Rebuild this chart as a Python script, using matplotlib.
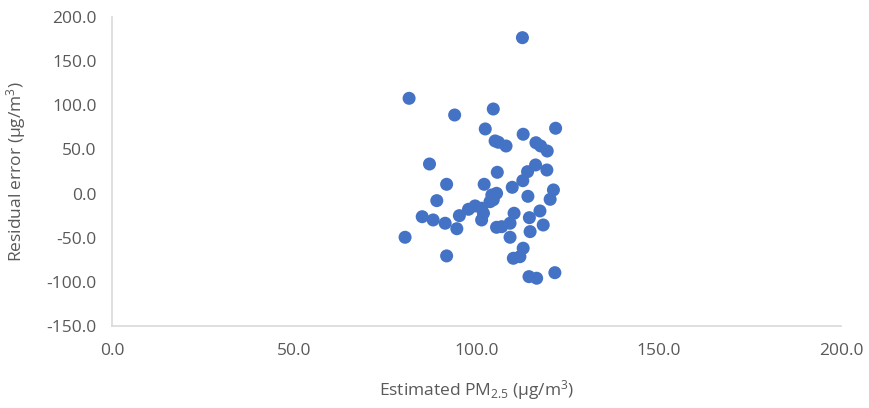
import matplotlib
matplotlib.use("Agg")
import matplotlib.pyplot as plt

# estimated PM2.5 vs residual error of the model
est_pm25 = [112.6, 81.5, 94.0, 104.6, 102.4, 112.8, 121.7, 105.1, 106.0, 108.1,
            116.3, 117.6, 119.4, 87.1, 105.7, 91.8, 102.1, 109.8, 112.7, 114.0,
            116.2, 119.3, 89.1, 114.1, 121.1, 120.2, 104.2, 105.5, 103.7, 104.6,
            85.1, 88.1, 91.4, 94.6, 95.3, 97.8, 99.6, 101.4, 101.4, 101.9,
            110.3, 117.4, 114.5, 118.3, 105.5, 106.9, 109.2, 114.7, 109.2, 80.4,
            112.8, 91.8, 110.1, 111.9, 114.4, 116.5, 121.5]
residual = [176.6, 107.9, 89.0, 95.8, 73.2, 67.2, 74.0, 59.6, 58.1, 53.9,
            57.6, 53.9, 48.2, 33.5, 24.1, 10.5, 10.5, 7.1, 14.6, 24.8,
            32.4, 26.7, -8.0, -3.1, 4.1, -6.5, -1.6, 0.3, -9.2, -7.0,
            -26.2, -29.9, -33.6, -39.8, -25.0, -17.8, -14.0, -16.6, -29.9, -22.3,
            -22.3, -19.7, -27.3, -35.6, -38.2, -37.5, -33.6, -43.1, -49.5, -49.5,
            -61.9, -70.6, -73.3, -71.5, -94.1, -95.9, -89.6]

x_ticks = [0, 50, 100, 150, 200]
y_ticks = [-150, -100, -50, 0, 50, 100, 150, 200]

grey = "#595959"
plt.rcParams["font.family"] = ["Open Sans", "DejaVu Sans"]

fig = plt.figure(figsize=(8.69, 4.08), dpi=100)
ax = fig.add_axes([0.1289, 0.201, 0.8389, 0.7573])

ax.scatter(est_pm25, residual, s=88, color="#4472C4", edgecolors="none", zorder=3)

ax.set_xlim(0, 200)
ax.set_ylim(-150, 200)
ax.set_xticks(x_ticks)
ax.set_yticks(y_ticks)
ax.set_xticklabels(["%.1f" % v for v in x_ticks])
ax.set_yticklabels(["%.1f" % v for v in y_ticks])
ax.tick_params(axis="both", length=0, colors=grey, labelsize=12.5)
ax.tick_params(axis="x", pad=12)
ax.tick_params(axis="y", pad=11)

for side in ["top", "right"]:
    ax.spines[side].set_visible(False)
for side in ["left", "bottom"]:
    ax.spines[side].set_color("#d9d9d9")
    ax.spines[side].set_linewidth(1.2)

ax.set_xlabel(r"Estimated $\mathregular{PM_{2.5}}$ (μg/m$\mathregular{^3}$)", color=grey,
              fontsize=12.5, labelpad=14)
ax.set_ylabel(r"Residual error (μg/m$\mathregular{^3}$)", color=grey, fontsize=12.5,
              labelpad=13)

fig.savefig("out.png", dpi=100)
